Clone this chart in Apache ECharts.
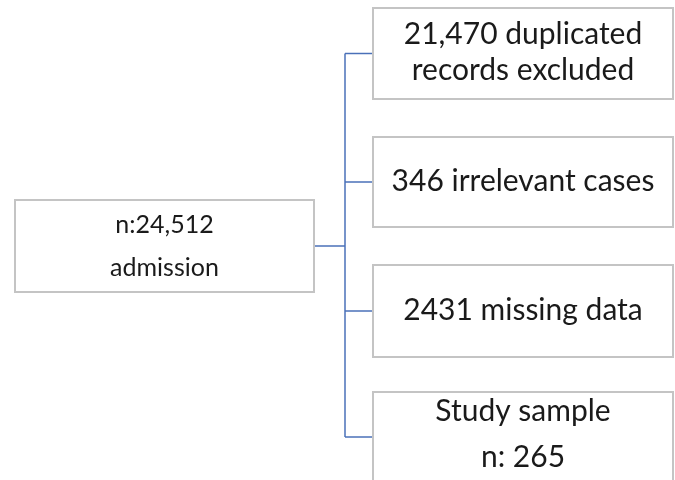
<!DOCTYPE html>
<html>
<head>
<meta charset="utf-8">
<script src="https://cdn.jsdelivr.net/npm/echarts@6/dist/echarts.min.js"></script>
<style>html,body{margin:0;padding:0;background:#fff}#c{width:675px;height:480px}</style>
</head>
<body>
<div id="c"></div>
<script>
// Node texts
const sourceLabel = 'n:24,512\nadmission';
const childLabels = ['21,470 duplicated\nrecords excluded', '346 irrelevant cases', '2431 missing data', 'Study sample\nn: 265'];

// Layout (in chart pixel units): [x0, y0, x1, y1]
const sourceBox = [15, 200, 314, 292];
const childBoxes = [[373, 8, 673, 99], [373, 137, 673, 227], [373, 265, 673, 357], [373, 392, 673, 482]];
const trunkX = 345;

const chart = echarts.init(document.getElementById('c'));

const nodes = [{box: sourceBox, label: sourceLabel, size: 25, lh: 43, dy: 0}]
  .concat(childBoxes.map((b, i) => ({box: b, label: childLabels[i], size: 30, lh: i === 3 ? 46 : 36, dy: i === 3 ? -3 : -1})));

const nodeData = nodes.map(n => [n.box[0], n.box[1], n.box[2], n.box[3]]);

// Connector polylines
const cy = b => (b[1] + b[3]) / 2;
const connectors = [];
connectors.push([[sourceBox[2], cy(sourceBox)], [trunkX, cy(sourceBox)]]);
connectors.push([[trunkX, cy(childBoxes[0])], [trunkX, cy(childBoxes[childBoxes.length - 1])]]);
childBoxes.forEach(b => connectors.push([[trunkX, cy(b)], [b[0], cy(b)]]));

chart.setOption({
  animation: false,
  grid: {left: 0, right: 0, top: 0, bottom: 0},
  xAxis: {type: 'value', min: 0, max: 675, show: false},
  yAxis: {type: 'value', min: 0, max: 480, inverse: true, show: false},
  series: [
    {
      type: 'custom',
      coordinateSystem: 'cartesian2d',
      clip: false,
      data: connectors.map(c => [c[0][0], c[0][1], c[1][0], c[1][1]]),
      renderItem: function (params, api) {
        const p0 = api.coord([api.value(0), api.value(1)]);
        const p1 = api.coord([api.value(2), api.value(3)]);
        return {type: 'line', shape: {x1: p0[0], y1: p0[1], x2: p1[0], y2: p1[1]},
          style: {stroke: '#4a70b8', lineWidth: 1.5}};
      }
    },
    {
      type: 'custom',
      coordinateSystem: 'cartesian2d',
      clip: false,
      data: nodeData,
      renderItem: function (params, api) {
        const n = nodes[params.dataIndex];
        const p0 = api.coord([api.value(0), api.value(1)]);
        const p1 = api.coord([api.value(2), api.value(3)]);
        return {
          type: 'group',
          children: [
            {type: 'rect', shape: {x: p0[0], y: p0[1], width: p1[0] - p0[0], height: p1[1] - p0[1]},
              style: {fill: '#fff', stroke: '#c4c4c4', lineWidth: 2}},
            {type: 'text', x: (p0[0] + p1[0]) / 2, y: (p0[1] + p1[1]) / 2 + n.dy,
              style: {text: n.label, fontFamily: 'Lato', fontSize: n.size, lineHeight: n.lh,
                fill: '#1a1a1a', align: 'center', verticalAlign: 'middle'}}
          ]
        };
      }
    }
  ]
});
</script>
</body>
</html>
